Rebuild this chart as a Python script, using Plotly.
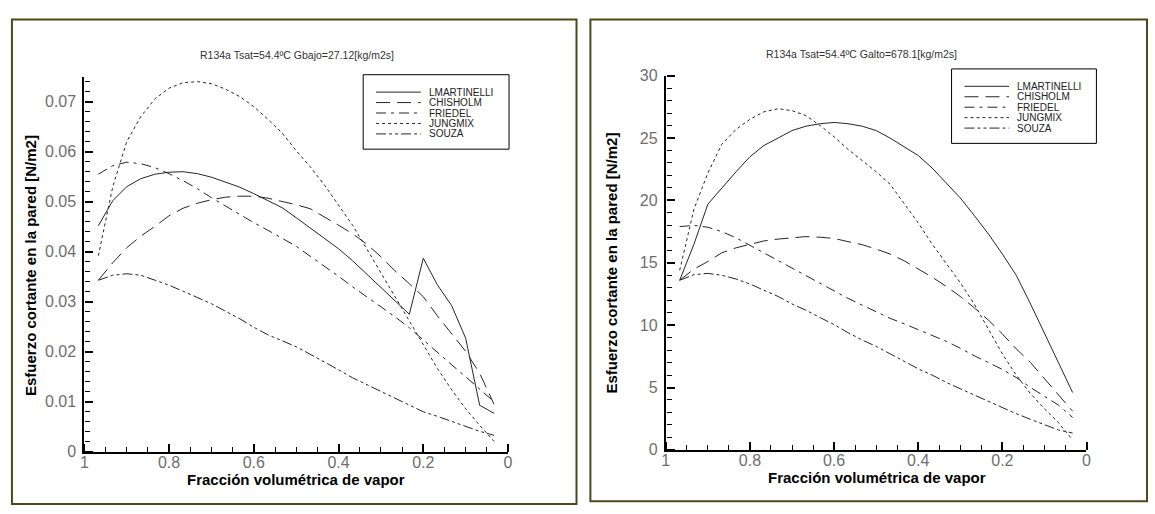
import plotly.graph_objects as go

W, H = 1155, 514

# ---------------- data ----------------
fraccion = [0.967, 0.933, 0.9, 0.867, 0.833, 0.8, 0.767, 0.733, 0.7, 0.667, 0.633, 0.6,
            0.567, 0.533, 0.5, 0.467, 0.433, 0.4, 0.367, 0.333, 0.3, 0.267, 0.233, 0.2,
            0.167, 0.133, 0.1, 0.067, 0.033]

series_names = ["LMARTINELLI", "CHISHOLM", "FRIEDEL", "JUNGMIX", "SOUZA"]

bajo_lmartinelli = [0.0452, 0.0502, 0.0530, 0.0546, 0.0555, 0.0559, 0.0560, 0.0556, 0.0549, 0.0539,
                    0.0529, 0.0516, 0.0502, 0.0488, 0.0468, 0.0448, 0.0426, 0.0406, 0.0382, 0.0355,
                    0.0328, 0.0301, 0.0275, 0.0387, 0.0334, 0.0292, 0.0227, 0.0093, 0.0077]
bajo_chisholm = [0.0343, 0.0378, 0.0408, 0.0431, 0.0451, 0.0472, 0.0487, 0.0497, 0.0504, 0.0509,
                 0.0511, 0.0511, 0.0507, 0.0501, 0.0494, 0.0486, 0.0470, 0.0453, 0.0436, 0.0415,
                 0.0390, 0.0362, 0.0336, 0.0310, 0.0272, 0.0236, 0.0201, 0.0157, 0.0095]
bajo_friedel = [0.0555, 0.0572, 0.0579, 0.0576, 0.0568, 0.0556, 0.0542, 0.0526, 0.0508, 0.0491,
                0.0474, 0.0458, 0.0443, 0.0427, 0.0411, 0.0391, 0.0371, 0.0351, 0.0330, 0.0310,
                0.0291, 0.0270, 0.0248, 0.0223, 0.0199, 0.0174, 0.0150, 0.0125, 0.0100]
bajo_jungmix = [0.0392, 0.0530, 0.0620, 0.0670, 0.0706, 0.0727, 0.0738, 0.0740, 0.0736, 0.0725,
                0.0710, 0.0690, 0.0665, 0.0637, 0.0602, 0.0570, 0.0533, 0.0494, 0.0453, 0.0405,
                0.0358, 0.0310, 0.0260, 0.0213, 0.0167, 0.0124, 0.0086, 0.0053, 0.0021]
bajo_souza = [0.0343, 0.0353, 0.0356, 0.0353, 0.0343, 0.0333, 0.0321, 0.0309, 0.0296, 0.0281,
              0.0266, 0.0249, 0.0234, 0.0222, 0.0210, 0.0195, 0.0180, 0.0164, 0.0148, 0.0134,
              0.0121, 0.0108, 0.0094, 0.0080, 0.0071, 0.0061, 0.0052, 0.0041, 0.0033]

alto_lmartinelli = [13.6, 16.5, 19.7, 21.0, 22.3, 23.5, 24.4, 25.0, 25.6, 25.95,
                    26.15, 26.25, 26.15, 25.95, 25.6, 25.0, 24.3, 23.6, 22.6, 21.4,
                    20.2, 18.8, 17.3, 15.7, 14.0, 11.7, 9.4, 7.1, 4.6]
alto_chisholm = [13.6, 14.5, 15.1, 15.8, 16.2, 16.5, 16.75, 16.9, 17.0, 17.1,
                 17.05, 16.95, 16.7, 16.45, 16.1, 15.7, 15.15, 14.5, 13.85, 13.1,
                 12.3, 11.4, 10.4, 9.3, 8.1, 7.0, 5.7, 4.4, 3.1]
alto_friedel = [17.9, 18.0, 17.85, 17.5, 17.0, 16.4, 15.8, 15.2, 14.6, 14.0,
                13.4, 12.75, 12.15, 11.6, 11.05, 10.55, 10.1, 9.65, 9.2, 8.7,
                8.15, 7.55, 7.0, 6.45, 5.8, 5.0, 4.3, 3.6, 2.6]
alto_jungmix = [14.4, 19.3, 22.2, 24.5, 25.7, 26.5, 27.1, 27.35, 27.2, 26.8,
                26.0, 25.1, 24.1, 23.2, 22.3, 21.3, 19.7, 18.2, 16.5, 14.9,
                13.4, 11.7, 9.7, 7.7, 6.0, 4.5, 3.3, 2.2, 0.8]
alto_souza = [13.6, 14.05, 14.15, 14.0, 13.7, 13.3, 12.8, 12.3, 11.7, 11.2,
              10.6, 10.05, 9.4, 8.8, 8.3, 7.7, 7.1, 6.5, 6.0, 5.4,
              4.9, 4.4, 3.9, 3.4, 2.9, 2.45, 2.0, 1.6, 1.35]

titulo_bajo = "R134a Tsat=54.4ºC Gbajo=27.12[kg/m2s]"
titulo_alto = "R134a Tsat=54.4ºC Galto=678.1[kg/m2s]"
eje_x = "Fracción volumétrica de vapor"
eje_y = "Esfuerzo cortante en la pared [N/m2]"

dash_styles = ["solid", "14px,7px", "10px,5px,3px,5px", "3px,3px", "10px,3px,3px,3px,3px,3px"]
line_color = "#262626"
font_family = "Liberation Sans, Arial, Helvetica, sans-serif"
tick_font = dict(family=font_family, size=16, color="#6e6e6e")


def px(x):
    return x / W


def py(y):
    return 1 - y / H


fig = go.Figure()

bajo = [bajo_lmartinelli, bajo_chisholm, bajo_friedel, bajo_jungmix, bajo_souza]
alto = [alto_lmartinelli, alto_chisholm, alto_friedel, alto_jungmix, alto_souza]

for name, vals, dash in zip(series_names, bajo, dash_styles):
    fig.add_trace(go.Scatter(x=fraccion, y=vals, mode="lines", name=name, showlegend=False,
                             line=dict(color=line_color, width=1, dash=dash),
                             xaxis="x", yaxis="y"))
for name, vals, dash in zip(series_names, alto, dash_styles):
    fig.add_trace(go.Scatter(x=fraccion, y=vals, mode="lines", name=name, showlegend=False,
                             line=dict(color=line_color, width=1, dash=dash),
                             xaxis="x2", yaxis="y2"))
# empty traces so the tick-only overlay axes are drawn
fig.add_trace(go.Scatter(x=[], y=[], xaxis="x3", yaxis="y3", showlegend=False, hoverinfo="skip"))
fig.add_trace(go.Scatter(x=[], y=[], xaxis="x4", yaxis="y4", showlegend=False, hoverinfo="skip"))


def main_axis(dtick, standoff):
    return dict(showline=True, linecolor="black", linewidth=2, ticks="",
                showgrid=False, zeroline=False, dtick=dtick, tick0=0,
                ticklabelstandoff=standoff, tickfont=tick_font)


def tick_axis(dtick, minor_dtick):
    # overlay axis drawing only tick marks, pointing into the plot
    return dict(showline=False, showticklabels=False, showgrid=False, zeroline=False,
                ticks="outside", ticklen=8, tickwidth=2, tickcolor="black",
                dtick=dtick, tick0=0,
                minor=dict(ticks="outside", ticklen=5, tickwidth=1, tickcolor="black",
                           dtick=minor_dtick, showgrid=False))


L = dict(x0=81, x1=508, y0=459, y1=71, box=(8, 12, 577, 513),
         leg=(362, 69, 509, 146), title_x=295, title_y=49,
         xt=(294, 488), yt=(26, 266))
R = dict(x0=667, x1=1091, y0=457, y1=70, box=(591, 12, 1152, 510),
         leg=(955, 63, 1101, 140), title_x=864, title_y=48,
         xt=(880, 486), yt=(612, 264))

xr = [1, 0]
yr_bajo = [0, 0.075]
yr_alto = [0, 30]

fig.update_layout(
    xaxis=dict(domain=[px(L["x0"]), px(L["x1"])], range=xr, anchor="y", **main_axis(0.2, -5)),
    yaxis=dict(domain=[py(L["y0"]), py(L["y1"])], range=yr_bajo, anchor="x", **main_axis(0.01, 3)),
    xaxis2=dict(domain=[px(R["x0"]), px(R["x1"])], range=xr, anchor="y2", **main_axis(0.2, -5)),
    yaxis2=dict(domain=[py(R["y0"]), py(R["y1"])], range=yr_alto, anchor="x2", **main_axis(5, 3)),
    xaxis3=dict(overlaying="x", anchor="free", position=py(L["y0"]), side="top",
                range=xr, **tick_axis(0.2, 0.05)),
    yaxis3=dict(overlaying="y", anchor="free", position=px(L["x0"]), side="right",
                range=yr_bajo, **tick_axis(0.01, 0.002)),
    xaxis4=dict(overlaying="x2", anchor="free", position=py(R["y0"]), side="top",
                range=xr, **tick_axis(0.2, 0.05)),
    yaxis4=dict(overlaying="y2", anchor="free", position=px(R["x0"]), side="right",
                range=yr_alto, **tick_axis(5, 1)),
)

shapes = []
annotations = []
for P, title in ((L, titulo_bajo), (R, titulo_alto)):
    bx0, by0, bx1, by1 = P["box"]
    shapes.append(dict(type="rect", xref="paper", yref="paper", layer="below",
                       x0=px(bx0), x1=px(bx1), y0=py(by1), y1=py(by0),
                       line=dict(color="#4a4a1e", width=2), fillcolor="rgba(0,0,0,0)"))
    lx0, ly0, lx1, ly1 = P["leg"]
    shapes.append(dict(type="rect", xref="paper", yref="paper",
                       x0=px(lx0), x1=px(lx1), y0=py(ly1), y1=py(ly0),
                       line=dict(color="black", width=1), fillcolor="white"))
    for i, (name, dash) in enumerate(zip(series_names, dash_styles)):
        yy = ly0 + 18 + i * 10.8
        shapes.append(dict(type="line", xref="paper", yref="paper",
                           x0=px(lx0 + 13), x1=px(lx0 + 58), y0=py(yy), y1=py(yy),
                           line=dict(color=line_color, width=1, dash=dash)))
        annotations.append(dict(xref="paper", yref="paper", x=px(lx0 + 65), y=py(yy),
                                text=name, showarrow=False, xanchor="left", yanchor="middle",
                                borderpad=0,
                                font=dict(family=font_family, size=10, color="#222")))
    annotations.append(dict(xref="paper", yref="paper", x=px(P["title_x"]), y=py(P["title_y"]),
                            text=title, showarrow=False, xanchor="center", yanchor="middle",
                            font=dict(family=font_family, size=10.5, color="#333")))
    annotations.append(dict(xref="paper", yref="paper", x=px(P["xt"][0]), y=py(P["xt"][1]),
                            text="<b>" + eje_x + "</b>", showarrow=False,
                            xanchor="center", yanchor="middle",
                            font=dict(family=font_family, size=15, color="black")))
    annotations.append(dict(xref="paper", yref="paper", x=px(P["yt"][0]), y=py(P["yt"][1]),
                            text="<b>" + eje_y + "</b>", showarrow=False, textangle=-90,
                            xanchor="center", yanchor="middle",
                            font=dict(family=font_family, size=15, color="black")))

fig.update_layout(
    width=W, height=H, margin=dict(l=0, r=0, t=0, b=0),
    paper_bgcolor="white", plot_bgcolor="white",
    shapes=shapes, annotations=annotations, showlegend=False,
)

fig.write_html("out.html")
